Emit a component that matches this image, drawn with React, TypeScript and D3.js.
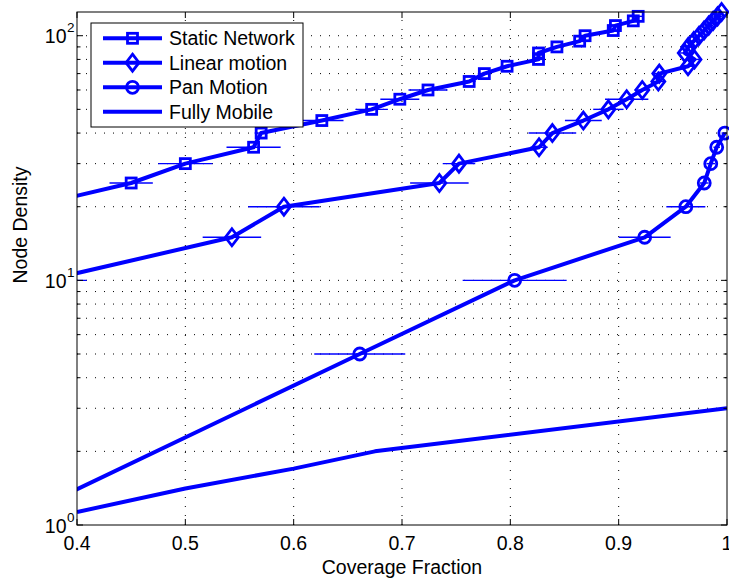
import React from "react";
import * as d3 from "d3";

// Coverage fraction (x) vs node density (y), with horizontal error half-widths
const staticX = [0.357, 0.45, 0.5, 0.563, 0.57, 0.626, 0.672, 0.698, 0.724, 0.762, 0.776, 0.797, 0.826, 0.826, 0.843, 0.864, 0.869, 0.895, 0.897, 0.9135, 0.918];
const staticY = [20, 25, 30, 35, 40, 45, 50, 55, 60, 65, 70, 75, 80, 85, 90, 95, 100, 105, 110, 115, 120];
const staticErr = [0.03, 0.02, 0.025, 0.025, 0.006, 0.02, 0.015, 0.018, 0.018, 0.006, 0.006, 0.006, 0.006, 0.006, 0.005, 0.005, 0.005, 0.005, 0.005, 0.005, 0.005];

const linearX = [0.371, 0.543, 0.591, 0.7345, 0.7526, 0.8265, 0.8388, 0.8674, 0.8905, 0.9074, 0.9218, 0.9366, 0.9375, 0.964, 0.97, 0.961, 0.9643, 0.9693, 0.9742, 0.9788, 0.9831, 0.9872, 0.9913, 0.995];
const linearY = [10, 15, 20, 25, 30, 35, 40, 45, 50, 55, 60, 65, 70, 75, 80, 85, 90, 95, 100, 105, 110, 115, 120, 125];
const linearErr = [0.038, 0.027, 0.033, 0.027, 0.015, 0.008, 0.022, 0.017, 0.014, 0.02, 0.007, 0.006, 0.006, 0.006, 0.005, 0.005, 0.004, 0.004, 0.004, 0.004, 0.004, 0.004, 0.004, 0.004];

const panX = [0.38, 0.661, 0.804, 0.924, 0.962, 0.979, 0.985, 0.9905, 0.998];
const panY = [1.27, 5, 10, 15, 20, 25, 30, 35, 40];
const panErr = [0, 0.042, 0.048, 0.024, 0.018, 0.004, 0.004, 0.003, 0.003];

const mobileX = [0.4, 0.5, 0.6, 0.675, 1.0];
const mobileY = [1.13, 1.41, 1.7, 2.0, 3.0];

const xTicks = [0.4, 0.5, 0.6, 0.7, 0.8, 0.9, 1.0];
const xTickLabels = ["0.4", "0.5", "0.6", "0.7", "0.8", "0.9", "1"];
const yMajor = [1, 10, 100];
const yMajorExp = ["0", "1", "2"];

const seriesNames = ["Static Network", "Linear motion", "Pan Motion", "Fully Mobile"];

const W = 729;
const H = 583;
const L = 77, R = 727, T = 12, B = 525;
const BLUE = "#0000ff";
const FONT = "'Liberation Sans', Arial, Helvetica, sans-serif";

type Pt = { x: number; y: number; e: number };

function zip(xs: number[], ys: number[], es?: number[]): Pt[] {
  return xs.map((x, i) => ({ x, y: ys[i], e: es ? es[i] : 0 }));
}

function Marker({ kind, cx, cy }: { kind: string; cx: number; cy: number }) {
  const sw = 2.8;
  if (kind === "square") {
    return <rect x={cx - 5} y={cy - 5} width={10} height={10} fill="none" stroke={BLUE} strokeWidth={sw} />;
  }
  if (kind === "diamond") {
    const p = `${cx},${cy - 8.5} ${cx + 6.5},${cy} ${cx},${cy + 8.5} ${cx - 6.5},${cy}`;
    return <polygon points={p} fill="none" stroke={BLUE} strokeWidth={sw} strokeLinejoin="miter" />;
  }
  if (kind === "circle") {
    return <circle cx={cx} cy={cy} r={6} fill="none" stroke={BLUE} strokeWidth={sw} />;
  }
  return null;
}

export default function App() {
  const x = d3.scaleLinear().domain([0.4, 1]).range([L, R]);
  const y = d3.scaleLog().domain([1, 125]).range([B, T]);

  const line = d3
    .line<Pt>()
    .x((d) => x(d.x))
    .y((d) => y(d.y));

  const series = [
    { name: seriesNames[0], data: zip(staticX, staticY, staticErr), marker: "square" },
    { name: seriesNames[1], data: zip(linearX, linearY, linearErr), marker: "diamond" },
    { name: seriesNames[2], data: zip(panX, panY, panErr), marker: "circle" },
    { name: seriesNames[3], data: zip(mobileX, mobileY), marker: "none" },
  ];

  // log-axis minor ticks: 2..9 within each decade, inside the domain
  const yMinor: number[] = [];
  for (const dec of [1, 10, 100]) {
    for (let k = 2; k <= 9; k++) {
      const v = k * dec;
      if (v <= 125) yMinor.push(v);
    }
  }

  const gridStyle = { stroke: "#000", strokeWidth: 1, strokeDasharray: "1 8" };

  const legX = 91, legY = 23, legW = 212, legH = 104;
  const rowY = [38.3, 62.7, 87.3, 111.7];

  return (
    <svg
      width={W}
      height={H}
      style={{ position: "absolute", left: 0, top: 0, background: "#fff" }}
      fontFamily={FONT}
    >
      <defs>
        <clipPath id="plotArea">
          <rect x={L} y={T} width={R - L} height={B - T} />
        </clipPath>
        <clipPath id="markerArea">
          <rect x={L} y={0} width={W - L} height={B} />
        </clipPath>
      </defs>
      <rect x={0} y={0} width={W} height={H} fill="#fff" />

      {/* dotted grid */}
      <g>
        {xTicks.slice(1, -1).map((t) => (
          <line key={"gx" + t} x1={x(t)} x2={x(t)} y1={B} y2={T} style={gridStyle} />
        ))}
        {[...yMinor, 10, 100].map((t) => (
          <line key={"gy" + t} x1={L} x2={R} y1={y(t)} y2={y(t)} style={gridStyle} />
        ))}
      </g>

      {/* error bars and lines */}
      <g clipPath="url(#plotArea)">
        {series.map((s) =>
          s.data
            .filter((d) => d.e > 0)
            .map((d, i) => (
              <line
                key={s.name + "e" + i}
                x1={x(d.x - d.e)}
                x2={x(d.x + d.e)}
                y1={y(d.y)}
                y2={y(d.y)}
                stroke={BLUE}
                strokeWidth={1.4}
              />
            ))
        )}
        {series.map((s) => (
          <path key={s.name} d={line(s.data) || ""} fill="none" stroke={BLUE} strokeWidth={4} strokeLinejoin="round" />
        ))}
      </g>

      {/* markers */}
      <g clipPath="url(#markerArea)">
        {series.map((s) =>
          s.data.map((d, i) => <Marker key={s.name + "m" + i} kind={s.marker} cx={x(d.x)} cy={y(d.y)} />)
        )}
      </g>

      {/* axes frame */}
      <rect x={L} y={T} width={R - L} height={B - T} fill="none" stroke="#000" strokeWidth={1} />

      {/* x ticks (inside, bottom and top) */}
      {xTicks.map((t) => (
        <g key={"xt" + t}>
          <line x1={x(t)} x2={x(t)} y1={B} y2={B - 6} stroke="#000" />
          <line x1={x(t)} x2={x(t)} y1={T} y2={T + 6} stroke="#000" />
        </g>
      ))}
      {/* y ticks (inside, left and right) */}
      {yMajor.map((t) => (
        <g key={"yM" + t}>
          <line x1={L} x2={L + 6} y1={y(t)} y2={y(t)} stroke="#000" />
          <line x1={R} x2={R - 6} y1={y(t)} y2={y(t)} stroke="#000" />
        </g>
      ))}
      {yMinor.map((t) => (
        <g key={"ym" + t}>
          <line x1={L} x2={L + 3.5} y1={y(t)} y2={y(t)} stroke="#000" />
          <line x1={R} x2={R - 3.5} y1={y(t)} y2={y(t)} stroke="#000" />
        </g>
      ))}

      {/* tick labels */}
      {xTicks.map((t, i) => (
        <text key={"xl" + t} x={x(t)} y={550} textAnchor="middle" fontSize={19.5} fill="#000">
          {xTickLabels[i]}
        </text>
      ))}
      {yMajor.map((t, i) => (
        <g key={"yl" + t}>
          <text x={66.5} y={y(t) + 7.5} textAnchor="end" fontSize={19.5} fill="#000">
            10
          </text>
          <text x={67} y={y(t) - 3.3} fontSize={13.5} fill="#000">
            {yMajorExp[i]}
          </text>
        </g>
      ))}

      {/* axis titles */}
      <text x={(L + R) / 2} y={574} textAnchor="middle" fontSize={19.5} fill="#000">
        Coverage Fraction
      </text>
      <text
        transform="translate(27, 225) rotate(-90)"
        textAnchor="middle"
        fontSize={19.5}
        fill="#000"
      >
        Node Density
      </text>

      {/* legend */}
      <g>
        <rect x={legX} y={legY} width={legW} height={legH} fill="#fff" stroke="#000" strokeWidth={1} />
        {series.map((s, i) => (
          <g key={"leg" + i}>
            <line x1={103} x2={162} y1={rowY[i]} y2={rowY[i]} stroke={BLUE} strokeWidth={4} />
            <Marker kind={s.marker} cx={132.5} cy={rowY[i]} />
            <text x={169} y={rowY[i] + 7} fontSize={19.5} fill="#000">
              {s.name}
            </text>
          </g>
        ))}
      </g>
    </svg>
  );
}
